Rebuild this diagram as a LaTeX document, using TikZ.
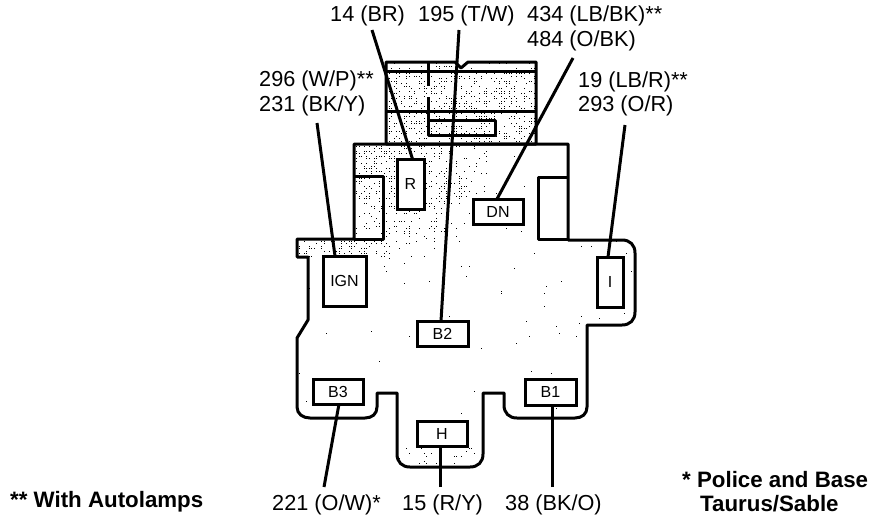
\documentclass[tikz,border=0pt]{standalone}
\usepackage{fontspec}
\setmainfont{Liberation Sans}
\tikzset{
  lab/.style={font=\fontsize{21.7}{26}\selectfont,inner sep=0pt,anchor=west,yshift=-1.5pt},
  note/.style={font=\fontsize{22.3}{26}\selectfont\bfseries,inner sep=0pt,anchor=west,yshift=-1pt},
  conbox/.style={draw=black,fill=white,line width=3pt,inner sep=0pt,outer sep=0pt,font=\fontsize{16}{18}\selectfont},
  wire/.style={draw=black,line width=3pt},
  edge/.style={draw=black,line width=3pt,line join=round}
}
\newcommand{\bodyoutline}{(354,144) -- (354,239) -- (297,239) -- (297,257) -- (308,257) -- (308,320) -- (297,338)
  -- (297,407) .. controls (297,414) and (303,418) .. (310,418)
  -- (365,418) .. controls (372,418) and (377,414) .. (377,407)
  -- (377,393) -- (397,393) -- (397,454) .. controls (397,462) and (402,467) .. (410,467)
  -- (470,467) .. controls (478,467) and (483,462) .. (483,454)
  -- (483,393) -- (504,393) -- (504,405) .. controls (504,413) and (509,418) .. (517,418)
  -- (575,418) .. controls (582,418) and (587,414) .. (587,407)
  -- (587,325) -- (622,325) .. controls (630,325) and (635,320) .. (635,312)
  -- (635,253) .. controls (635,245) and (630,240) .. (622,240)
  -- (568,240) -- (568,144) -- cycle}
\newcommand{\topoutline}{(386,144) -- (386,62) -- (455,62) -- (461,68) -- (468,62) -- (536,62) -- (536,144) -- cycle}
\begin{document}
\begin{tikzpicture}[x=1pt,y=-1pt]
\useasboundingbox (0,0) rectangle (880,522);
\fill[white] (0,0) rectangle (880,522);
% stipple
\pgfmathsetseed{11}
\begin{scope}
\clip \bodyoutline \topoutline;
\foreach \gx in {296,298.5,...,636}{
  \foreach \gy in {63,65.5,...,468}{
    \pgfmathsetmacro{\dens}{\gy<144 ? (\gy<71 ? 0.12 : 0.34) : max(0.006,max(0.45-veclen(\gx-395,\gy-165)/240,
       max((\gy>239 && \gy<257 && \gx<390) ? 0.3 : 0,
       max(0.07-veclen(\gx-605,\gy-262)/600,(\gy>447 ? 0.1 : 0)))))}
    \pgfmathparse{rnd<\dens ? 1 : 0}
    \ifnum\pgfmathresult=1
      \fill[black] (\gx,\gy) rectangle ++(1.2,1.2);
    \fi
  }
}
\end{scope}
\fill[white] (538,177) rectangle (568,239);
% body
\draw[edge] \topoutline;
\draw[edge] (386,71) -- (536,71);
\draw[edge] (386,111) -- (536,111);
\draw[edge] (428,62) -- (428,86);
\draw[edge] (428,97) -- (428,135) -- (495,135) -- (495,120) -- (428,120);
\draw[edge] \bodyoutline;
\draw[edge] (354,176) -- (383,176) -- (383,239) -- (354,239);
\draw[edge] (568,177) -- (538,177) -- (538,239) -- (568,239);
% connectors
\node[conbox,minimum width=27pt,minimum height=50pt] (r) at (410.5,184) {R};
\node[conbox,minimum width=50pt,minimum height=25pt] (dn) at (498,211.5) {DN};
\node[conbox,minimum width=43pt,minimum height=50pt] (ign) at (344.5,281) {IGN};
\node[conbox,minimum width=26pt,minimum height=50pt] (i) at (610,282) {I};
\node[conbox,minimum width=51pt,minimum height=25pt] (b2) at (442.5,333.5) {B2};
\node[conbox,minimum width=50pt,minimum height=25pt] (b3) at (338,391.5) {B3};
\node[conbox,minimum width=51pt,minimum height=26pt] (b1) at (550.5,392) {B1};
\node[conbox,minimum width=50pt,minimum height=25pt] (h) at (442,433.5) {H};
% labels
\node[lab] (t14) at (330,14) {14 (BR)};
\node[lab] (t195) at (418,14) {195 (T/W)};
\node[lab] (t434) at (527,14) {434 (LB/BK)**};
\node[lab] (t484) at (527,39) {484 (O/BK)};
\node[lab] (t296) at (259,79) {296 (W/P)**};
\node[lab] (t231) at (259,104) {231 (BK/Y)};
\node[lab] (t19) at (578,80) {19 (LB/R)**};
\node[lab] (t293) at (578,104) {293 (O/R)};
\node[lab] (t221) at (272,503) {221 (O/W)*};
\node[lab] (t15) at (402,503) {15 (R/Y)};
\node[lab] (t38) at (505,503) {38 (BK/O)};
\node[note] (nauto) at (10,501) {** With Autolamps};
\node[note] (npol) at (682,479) {* Police and Base};
\node[note] (ntaur) at (700,503) {Taurus/Sable};
% leaders
\coordinate (c14) at (372,30);
\coordinate (c195) at (459,30);
\coordinate (cdn) at (573,58);
\coordinate (c296) at (317,123);
\coordinate (c19) at (625,125);
\coordinate (c221) at (324,487);
\coordinate (c15) at (440,487);
\coordinate (c38) at (552,487);
\draw[wire] (c14) -- ([xshift=2pt]r.north);
\draw[wire] (c195) -- ([xshift=-1.5pt]b2.north);
\draw[wire] (cdn) -- ([xshift=-1pt]dn.north);
\draw[wire] (c296) -- ([xshift=-9.5pt]ign.north);
\draw[wire] (c19) -- ([xshift=-2pt]i.north);
\draw[wire] (c221) -- ([xshift=1pt]b3.south);
\draw[wire] (c15) -- ([xshift=-2pt]h.south);
\draw[wire] (c38) -- ([xshift=1.5pt]b1.south);
\end{tikzpicture}
\end{document}
